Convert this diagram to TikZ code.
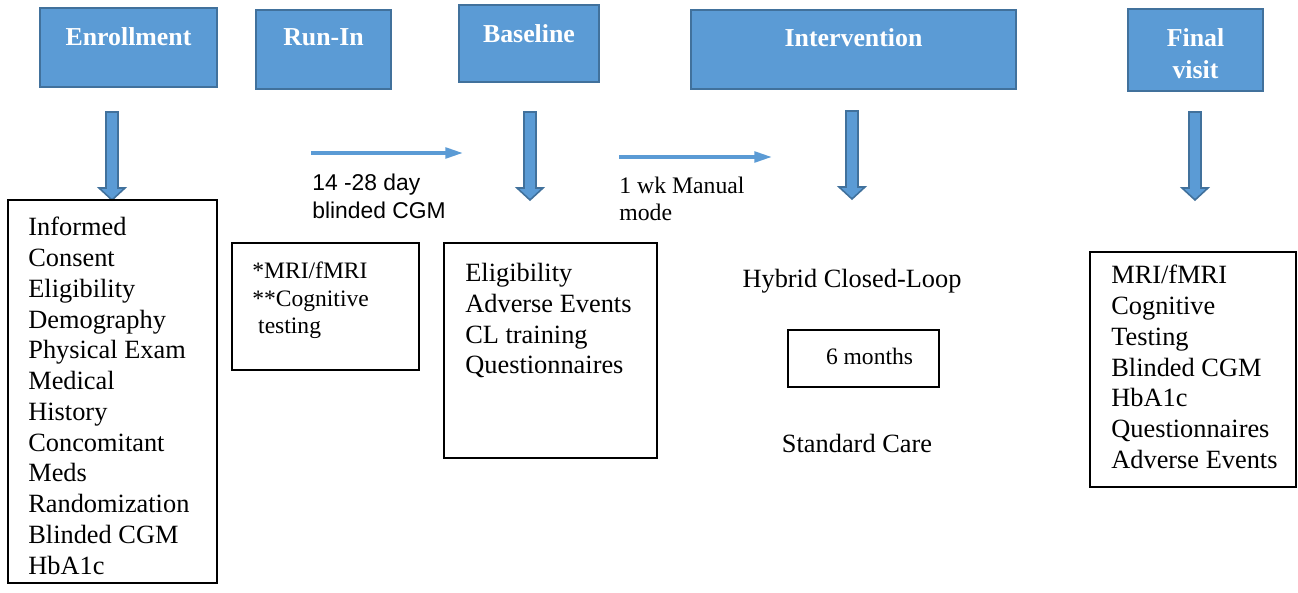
\documentclass[tikz,border=0pt]{standalone}
\usepackage{fontspec}
\setmainfont{Liberation Serif}
\newfontfamily\helv{Liberation Sans}
\usetikzlibrary{arrows.meta,fit}
\definecolor{boxblue}{HTML}{5B9BD5}
\definecolor{edgeblue}{HTML}{41719C}

\begin{document}
\begin{tikzpicture}[x=0.2mm,y=-0.2mm]
    \tikzset{headbox/.style={draw=edgeblue,fill=boxblue,line width=1.1pt,inner sep=0},
        headtext/.style={anchor=north,inner sep=0,text=white,align=center,font=\fontsize{14.7}{18.1}\selectfont\bfseries},
        listbox/.style={draw,line width=0.8pt,inner sep=0},
        listtext/.style={anchor=north west,inner sep=0,align=left,font=\fontsize{15}{17.5}\selectfont},
        blockarrow/.style={draw=edgeblue,fill=boxblue,line width=0.9pt},
        thinarrow/.style={boxblue,line width=2pt,-{Triangle[length=10pt,width=6pt]}},
        downarrow/.pic={\draw[blockarrow] (-6,0) -- (6,0) -- (6,76) -- (13,76) -- (0,88) -- (-13,76) -- (-6,76) -- cycle;}};
    \useasboundingbox (0,0) rectangle (1298,593);
    % phase headers
    \node[headbox,fit={(40,8) (217,87)}] (enrol) {};
    \node[headtext] (enroltxt) at (enrol.north |- 0,27.5) {Enrollment};
    \node[headbox,fit={(256,10) (391,89)}] (runin) {};
    \node[headtext] (runintxt) at (runin.north |- 0,28.5) {Run-In};
    \node[headbox,fit={(459,5) (599,82)}] (base) {};
    \node[headtext] (basetxt) at (base.north |- 0,24.5) {Baseline};
    \node[headbox,fit={(691,10) (1016,89)}] (interv) {};
    \node[headtext] (intervtxt) at (interv.north |- 0,28.5) {Intervention};
    \node[headbox,fit={(1128,9) (1263,91)}] (final) {};
    \node[headtext] (finaltxt) at (final.north |- 0,28.5) {Final\\visit};
    % block arrows
    \pic (enrolarr) at (112,112) {downarrow};
    \pic (basearr) at (530,112) {downarrow};
    \pic (intervarr) at (852,111) {downarrow};
    \pic (finalarr) at (1195,112) {downarrow};
    % thin arrows
    \coordinate (runinstart) at (311,153);
    \coordinate (runinend) at (463,153);
    \draw[thinarrow] (runinstart) -- (runinend);
    \node[anchor=north west,inner sep=0,align=left,font=\helv\fontsize{13}{15.9}\selectfont] (runinlbl) at (312,174) {14 -28 day\\blinded CGM};
    \coordinate (manualstart) at (619,157);
    \coordinate (manualend) at (772,157);
    \draw[thinarrow] (manualstart) -- (manualend);
    \node[anchor=north west,inner sep=0,align=left,font=\fontsize{13.5}{15.3}\selectfont] (manuallbl) at (619,177) {1 wk Manual\\mode};
    % lists
    \node[listbox,fit={(8,200) (217,583)}] (enrolbox) {};
    \node[listtext] (enrollist) at (28,217) {Informed\\Consent\\Eligibility\\Demography\\Physical Exam\\Medical\\History\\Concomitant\\Meds\\Randomization\\Blinded CGM\\HbA1c};
    \node[listbox,fit={(232,243) (419,370)}] (runinbox) {};
    \node[listtext,font=\fontsize{13.4}{15.6}\selectfont] (runinlist) at (252,262) {*MRI/fMRI\\**Cognitive\\\ testing};
    \node[listbox,fit={(444,243) (657,458)}] (basebox) {};
    \node[listtext] (baselist) at (465,263) {Eligibility\\Adverse Events\\CL training\\Questionnaires};
    \node[anchor=base,inner sep=0,font=\fontsize{15}{17.5}\selectfont] (hybrid) at (852,288) {Hybrid Closed-Loop};
    \node[listbox,fit={(788,330) (939,387)}] (monthbox) {};
    \node[inner sep=0,font=\fontsize{13.4}{15.6}\selectfont] (months) at (869.5,356) {6 months};
    \node[anchor=base,inner sep=0,font=\fontsize{15}{17.5}\selectfont] (standard) at (857,453) {Standard Care};
    \node[listbox,fit={(1090,252) (1296,487)}] (finalbox) {};
    \node[listtext] (finallist) at (1111,265) {MRI/fMRI\\Cognitive\\Testing\\Blinded CGM\\HbA1c\\Questionnaires\\Adverse Events};
\end{tikzpicture}
\end{document}
